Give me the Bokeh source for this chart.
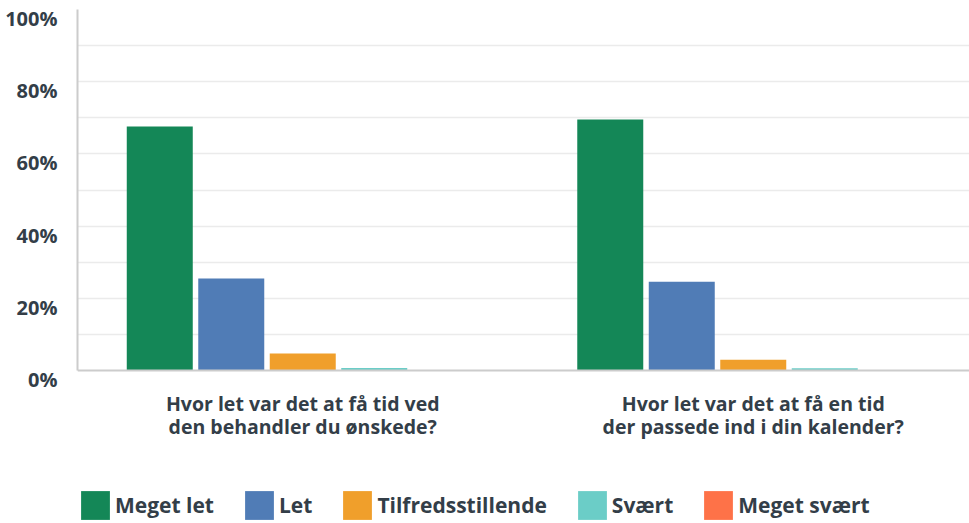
from bokeh.plotting import figure
from bokeh.layouts import column
from bokeh.models import (FixedTicker, Legend, LegendItem, PrintfTickFormatter, Range1d,
                          LinearAxis, Grid, Span)
from bokeh.embed import file_html
from bokeh.resources import INLINE

# ---- data ----
categories = [
    "Hvor let var det at få tid ved\nden behandler du ønskede?",
    "Hvor let var det at få en tid\nder passede ind i din kalender?",
]
series_names = ["Meget let", "Let", "Tilfredsstillende", "Svært", "Meget svært"]
meget_let = [67.6, 69.5]
let_vals = [25.5, 24.6]
tilfredsstillende = [4.7, 3.0]
svaert = [0.7, 0.6]
meget_svaert = [0.0, 0.0]
y_ticks = [0, 20, 40, 60, 80, 100]
grid_ticks = [10, 20, 30, 40, 50, 60, 70, 80, 90]

# ---- style ----
colors = ["#148757", "#507cb6", "#f09f2b", "#6bcdc7", "#fe7248"]
text_color = "#333e48"
axis_color = "#cccccc"
font = "Open Sans"
pitch = 0.1587
bar_w = 0.1465

# layout geometry (pixels)
fig_h = 480
top_b = 9
bottom_b = 101
frame_h = fig_h - top_b - bottom_b
px_per_unit = 3.61            # pixels per percentage point
label_drop = 9                # y tick labels sit this many px below their gridline
delta = frame_h / px_per_unit - 100     # extra room under 0 so the lowest label fits
shift = label_drop / px_per_unit
lab_start = shift - delta

p = figure(width=969, height=fig_h, output_backend="svg", toolbar_location=None,
           x_range=Range1d(0, 892 / 450.5), y_range=Range1d(-delta, 100),
           y_axis_location=None,
           min_border_left=77, min_border_right=0, min_border_top=top_b,
           min_border_bottom=bottom_b)
p.outline_line_color = None
p.background_fill_color = "white"
p.border_fill_color = "white"
p.extra_y_ranges = {"lab": Range1d(lab_start, lab_start + 100 + delta)}

# gridlines
p.xgrid.visible = False
p.add_layout(Grid(dimension=1, ticker=FixedTicker(ticks=grid_ticks),
                  grid_line_color="#ebebeb", grid_line_width=1.5))

all_series = [meget_let, let_vals, tilfredsstillende, svaert, meget_svaert]
bar_x = []
for j, (name, vals) in enumerate(zip(series_names, all_series)):
    xs = [i + 0.5 + (j - (len(series_names) - 1) / 2) * pitch for i in range(len(categories))]
    bar_x.append(xs)
    p.vbar(x=xs, top=vals, bottom=0, width=bar_w, fill_color=colors[j], line_color=None)

# baseline at 0 %
p.add_layout(Span(location=0, dimension="width", line_color=axis_color, line_width=2))

# x axis (labels only)
p.xaxis.ticker = FixedTicker(ticks=[i + 0.5 for i in range(len(categories))])
p.xaxis.major_label_overrides = {i + 0.5: c for i, c in enumerate(categories)}
p.xaxis.axis_line_color = None
p.xaxis.major_tick_line_color = None
p.xaxis.minor_tick_line_color = None
p.xaxis.major_label_standoff = 4
p.xaxis.major_label_text_font = font
p.xaxis.major_label_text_font_style = "bold"
p.xaxis.major_label_text_font_size = "19.5px"
p.xaxis.major_label_text_color = text_color
p.xaxis.major_label_text_line_height = 0.86

# y axis
yax = LinearAxis(y_range_name="lab", ticker=FixedTicker(ticks=y_ticks),
                 formatter=PrintfTickFormatter(format="%d%%"),
                 bounds=(shift, 100 + shift),
                 axis_line_color=axis_color, axis_line_width=2,
                 major_tick_line_color=None, minor_tick_line_color=None,
                 major_label_standoff=14,
                 major_label_text_font=font, major_label_text_font_style="bold",
                 major_label_text_font_size="20px", major_label_text_color=text_color)
p.add_layout(yax, "left")

# ---- legend row (its renderers sit outside the visible range; only the legend shows) ----
lp = figure(width=969, height=43, output_backend="svg", toolbar_location=None,
            x_range=Range1d(-10, -9), y_range=Range1d(0, 1),
            x_axis_type=None, y_axis_type=None,
            min_border_left=0, min_border_right=0, min_border_top=0, min_border_bottom=0)
lp.outline_line_color = None
lp.xgrid.visible = False
lp.ygrid.visible = False
items = []
for j, (name, vals) in enumerate(zip(series_names, all_series)):
    r = lp.vbar(x=bar_x[j], top=vals, width=bar_w, fill_color=colors[j],
                line_color=None, border_radius=3)
    items.append(LegendItem(label=name, renderers=[r]))

legend = Legend(items=items, orientation="horizontal", location=(0, 0),
                padding=0, margin=0, spacing=27, label_standoff=2,
                glyph_width=36, glyph_height=36,
                border_line_color=None, background_fill_alpha=0,
                label_text_font=font, label_text_font_style="bold",
                label_text_font_size="21px", label_text_color=text_color)
lp.add_layout(legend, "center")

layout = column(p, lp, spacing=0)
open("out.html", "w").write(file_html(layout, INLINE))
